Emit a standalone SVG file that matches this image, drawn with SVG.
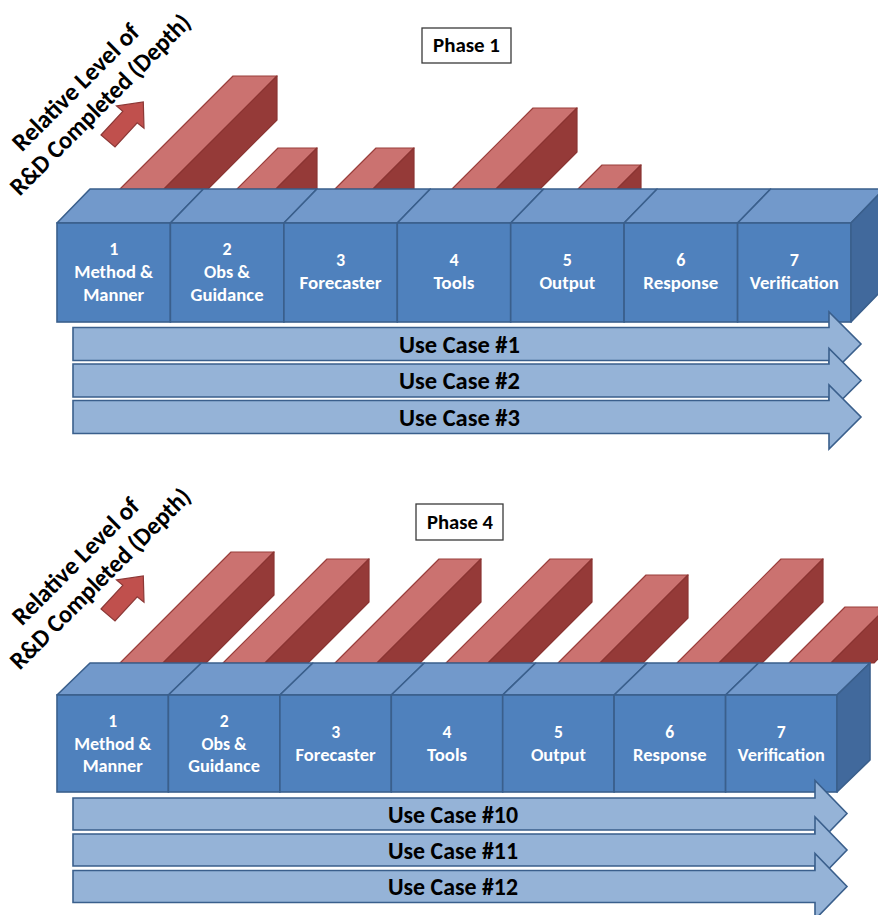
<svg xmlns="http://www.w3.org/2000/svg" width="878" height="915" viewBox="0 0 878 915">
<style>
text{font-family:Carlito,Lato,"Open Sans","Liberation Sans",sans-serif;font-weight:bold}
.lt{fill:#CB7270;stroke:#9A3E3B;stroke-width:1.2;stroke-linejoin:round}
.dk{fill:#953A38;stroke:#8A3432;stroke-width:1.2;stroke-linejoin:round}
.top{fill:#7299CB;stroke:#3A5F8C;stroke-width:1.6;stroke-linejoin:round}
.front{fill:#4F81BD;stroke:#3A5F8C;stroke-width:1.6}
.side{fill:#41699C;stroke:#3A5F8C;stroke-width:1.6;stroke-linejoin:round}
.cl{fill:#fff;font-size:18px;text-anchor:middle}
.cl4{fill:#fff;font-size:17.6px;text-anchor:middle}
.uc{fill:#95B3D7;stroke:#3A5F8C;stroke-width:1.6;stroke-linejoin:miter}
.uct{fill:#000;font-size:24px;text-anchor:middle}
.ph{fill:#fff;stroke:#3a3a3a;stroke-width:1.3}
.pht{fill:#000;font-size:20px;text-anchor:middle}
.rot{fill:#000;font-size:25px;text-anchor:middle}
.ra{fill:#C0504D;stroke:#8C3836;stroke-width:1.2;stroke-linejoin:miter}
</style>

<!-- ================= PHASE 1 ================= -->
<g id="phase1-label">
<rect class="ph" x="422" y="28" width="89" height="35"/>
<text class="pht" x="466.5" y="52" textLength="67" lengthAdjust="spacingAndGlyphs">Phase 1</text>
</g>

<g id="phase1-axis">
<text class="rot" transform="translate(81.5,93) rotate(-45)" textLength="168" lengthAdjust="spacingAndGlyphs">Relative Level of</text>
<text class="rot" transform="translate(106,110.5) rotate(-45)" textLength="244" lengthAdjust="spacingAndGlyphs">R&amp;D Completed (Depth)</text>
<polygon class="ra" points="101,135 122.8,111.3 116.5,106 143.3,102 144,128.3 137.2,122.8 115,147"/>
</g>

<g id="phase1-bars">
<g id="p1-bar1"><polygon class="lt" points="120,189 233,76 277,76 164,189"/><polygon class="dk" points="164,189 277,76 277,120 208,189"/></g>
<g id="p1-bar2"><polygon class="lt" points="237,189 278,148 317,148 276,189"/><polygon class="dk" points="276,189 317,148 317,189"/></g>
<g id="p1-bar3"><polygon class="lt" points="335,189 376,148 414,148 373,189"/><polygon class="dk" points="373,189 414,148 414,189"/></g>
<g id="p1-bar4"><polygon class="lt" points="452,189 533,108 577,108 496,189"/><polygon class="dk" points="496,189 577,108 577,152 540,189"/></g>
<g id="p1-bar5"><polygon class="lt" points="578,189 602,165 641,165 617,189"/><polygon class="dk" points="617,189 641,165 641,189"/></g>
</g>

<g id="phase1-steps">
<g id="p1-s1"><polygon class="top" points="57,223 90,189 203.4,189 170.4,223"/><rect class="front" x="57" y="223" width="113.4" height="99"/>
<text class="cl" x="113.7" y="255">1</text><text class="cl" x="113.7" y="278" textLength="79" lengthAdjust="spacingAndGlyphs">Method &amp;</text><text class="cl" x="113.7" y="301" textLength="61" lengthAdjust="spacingAndGlyphs">Manner</text></g>
<g id="p1-s2"><polygon class="top" points="170.4,223 203.4,189 316.9,189 283.9,223"/><rect class="front" x="170.4" y="223" width="113.5" height="99"/>
<text class="cl" x="227.1" y="255">2</text><text class="cl" x="227.1" y="278" textLength="46" lengthAdjust="spacingAndGlyphs">Obs &amp;</text><text class="cl" x="227.1" y="301" textLength="73" lengthAdjust="spacingAndGlyphs">Guidance</text></g>
<g id="p1-s3"><polygon class="top" points="283.9,223 316.9,189 430.3,189 397.3,223"/><rect class="front" x="283.9" y="223" width="113.4" height="99"/>
<text class="cl" x="340.5" y="266">3</text><text class="cl" x="340.5" y="289" textLength="82" lengthAdjust="spacingAndGlyphs">Forecaster</text></g>
<g id="p1-s4"><polygon class="top" points="397.3,223 430.3,189 543.7,189 510.7,223"/><rect class="front" x="397.3" y="223" width="113.4" height="99"/>
<text class="cl" x="454" y="266">4</text><text class="cl" x="454" y="289" textLength="41" lengthAdjust="spacingAndGlyphs">Tools</text></g>
<g id="p1-s5"><polygon class="top" points="510.7,223 543.7,189 657.1,189 624.1,223"/><rect class="front" x="510.7" y="223" width="113.4" height="99"/>
<text class="cl" x="567.4" y="266">5</text><text class="cl" x="567.4" y="289" textLength="56" lengthAdjust="spacingAndGlyphs">Output</text></g>
<g id="p1-s6"><polygon class="top" points="624.1,223 657.1,189 770.6,189 737.6,223"/><rect class="front" x="624.1" y="223" width="113.5" height="99"/>
<text class="cl" x="680.8" y="266">6</text><text class="cl" x="680.8" y="289" textLength="75" lengthAdjust="spacingAndGlyphs">Response</text></g>
<g id="p1-s7"><polygon class="top" points="737.6,223 770.6,189 884,189 851,223"/><rect class="front" x="737.6" y="223" width="113.4" height="99"/><polygon class="side" points="851,223 884,189 884,288 851,322"/>
<text class="cl" x="794.3" y="266">7</text><text class="cl" x="794.3" y="289" textLength="89" lengthAdjust="spacingAndGlyphs">Verification</text></g>
</g>

<g id="phase1-usecases">
<g id="uc1"><path class="uc" d="M73,327.5 H829 V312 L861,344 L829,376 V360.5 H73 Z"/><text class="uct" x="459.5" y="352.5" textLength="121" lengthAdjust="spacingAndGlyphs">Use Case #1</text></g>
<g id="uc2"><path class="uc" d="M73,364 H829 V348.5 L861,380.5 L829,412.5 V397 H73 Z"/><text class="uct" x="459.5" y="389" textLength="121" lengthAdjust="spacingAndGlyphs">Use Case #2</text></g>
<g id="uc3"><path class="uc" d="M73,400.5 H829 V385 L861,417 L829,449 V433.5 H73 Z"/><text class="uct" x="459.5" y="425.5" textLength="121" lengthAdjust="spacingAndGlyphs">Use Case #3</text></g>
</g>

<!-- ================= PHASE 4 ================= -->
<g id="phase4-label">
<rect class="ph" x="416" y="504" width="87" height="36"/>
<text class="pht" x="460" y="529" textLength="66" lengthAdjust="spacingAndGlyphs">Phase 4</text>
</g>

<g id="phase4-axis">
<text class="rot" transform="translate(81.5,567) rotate(-45)" textLength="168" lengthAdjust="spacingAndGlyphs">Relative Level of</text>
<text class="rot" transform="translate(106,584.5) rotate(-45)" textLength="244" lengthAdjust="spacingAndGlyphs">R&amp;D Completed (Depth)</text>
<polygon class="ra" points="101,609 122.8,585.3 116.5,580 143.3,576 144,602.3 137.2,596.8 115,621"/>
</g>

<g id="phase4-bars">
<g id="p4-bar1"><polygon class="lt" points="120,663 231,552 274,552 163,663"/><polygon class="dk" points="163,663 274,552 274,595 206,663"/></g>
<g id="p4-bar2"><polygon class="lt" points="223,663 327,559 369,559 265,663"/><polygon class="dk" points="265,663 369,559 369,602 308,663"/></g>
<g id="p4-bar3"><polygon class="lt" points="335,663 439,559 481,559 377,663"/><polygon class="dk" points="377,663 481,559 481,602 420,663"/></g>
<g id="p4-bar4"><polygon class="lt" points="446,663 550,559 592,559 488,663"/><polygon class="dk" points="488,663 592,559 592,602 531,663"/></g>
<g id="p4-bar5"><polygon class="lt" points="558,663 646,575 688,575 600,663"/><polygon class="dk" points="600,663 688,575 688,618 643,663"/></g>
<g id="p4-bar6"><polygon class="lt" points="677,663 781,559 823,559 719,663"/><polygon class="dk" points="719,663 823,559 823,602 762,663"/></g>
<g id="p4-bar7"><polygon class="lt" points="789,663 845,607 887,607 831,663"/><polygon class="dk" points="831,663 887,607 887,650 874,663"/></g>
</g>

<g id="phase4-steps">
<g id="p4-s1"><polygon class="top" points="57,695 90,663 201.4,663 168.4,695"/><rect class="front" x="57" y="695" width="111.4" height="97"/>
<text class="cl4" x="112.7" y="727">1</text><text class="cl4" x="112.7" y="750" textLength="77" lengthAdjust="spacingAndGlyphs">Method &amp;</text><text class="cl4" x="112.7" y="772" textLength="60" lengthAdjust="spacingAndGlyphs">Manner</text></g>
<g id="p4-s2"><polygon class="top" points="168.4,695 201.4,663 312.9,663 279.9,695"/><rect class="front" x="168.4" y="695" width="111.5" height="97"/>
<text class="cl4" x="224.1" y="727">2</text><text class="cl4" x="224.1" y="750" textLength="45" lengthAdjust="spacingAndGlyphs">Obs &amp;</text><text class="cl4" x="224.1" y="772" textLength="71.5" lengthAdjust="spacingAndGlyphs">Guidance</text></g>
<g id="p4-s3"><polygon class="top" points="279.9,695 312.9,663 424.3,663 391.3,695"/><rect class="front" x="279.9" y="695" width="111.4" height="97"/>
<text class="cl4" x="335.6" y="738">3</text><text class="cl4" x="335.6" y="761" textLength="80" lengthAdjust="spacingAndGlyphs">Forecaster</text></g>
<g id="p4-s4"><polygon class="top" points="391.3,695 424.3,663 535.7,663 502.7,695"/><rect class="front" x="391.3" y="695" width="111.4" height="97"/>
<text class="cl4" x="447" y="738">4</text><text class="cl4" x="447" y="761" textLength="40" lengthAdjust="spacingAndGlyphs">Tools</text></g>
<g id="p4-s5"><polygon class="top" points="502.7,695 535.7,663 647.1,663 614.1,695"/><rect class="front" x="502.7" y="695" width="111.4" height="97"/>
<text class="cl4" x="558.4" y="738">5</text><text class="cl4" x="558.4" y="761" textLength="55" lengthAdjust="spacingAndGlyphs">Output</text></g>
<g id="p4-s6"><polygon class="top" points="614.1,695 647.1,663 758.6,663 725.6,695"/><rect class="front" x="614.1" y="695" width="111.5" height="97"/>
<text class="cl4" x="669.8" y="738">6</text><text class="cl4" x="669.8" y="761" textLength="73.5" lengthAdjust="spacingAndGlyphs">Response</text></g>
<g id="p4-s7"><polygon class="top" points="725.6,695 758.6,663 870,663 837,695"/><rect class="front" x="725.6" y="695" width="111.4" height="97"/><polygon class="side" points="837,695 870,663 870,760 837,792"/>
<text class="cl4" x="781.3" y="738">7</text><text class="cl4" x="781.3" y="761" textLength="87" lengthAdjust="spacingAndGlyphs">Verification</text></g>
</g>

<g id="phase4-usecases">
<g id="uc10"><path class="uc" d="M73,798 H815 V780.5 L847,813.5 L815,846.5 V830 H73 Z"/><text class="uct" x="453" y="822.5" textLength="130" lengthAdjust="spacingAndGlyphs">Use Case #10</text></g>
<g id="uc11"><path class="uc" d="M73,834 H815 V817 L847,850 L815,883 V866 H73 Z"/><text class="uct" x="453" y="858.5" textLength="130" lengthAdjust="spacingAndGlyphs">Use Case #11</text></g>
<g id="uc12"><path class="uc" d="M73,870.5 H815 V853.5 L847,886.5 L815,919.5 V902.5 H73 Z"/><text class="uct" x="453" y="895" textLength="130" lengthAdjust="spacingAndGlyphs">Use Case #12</text></g>
</g>

<g id="connectors"/>
</svg>
